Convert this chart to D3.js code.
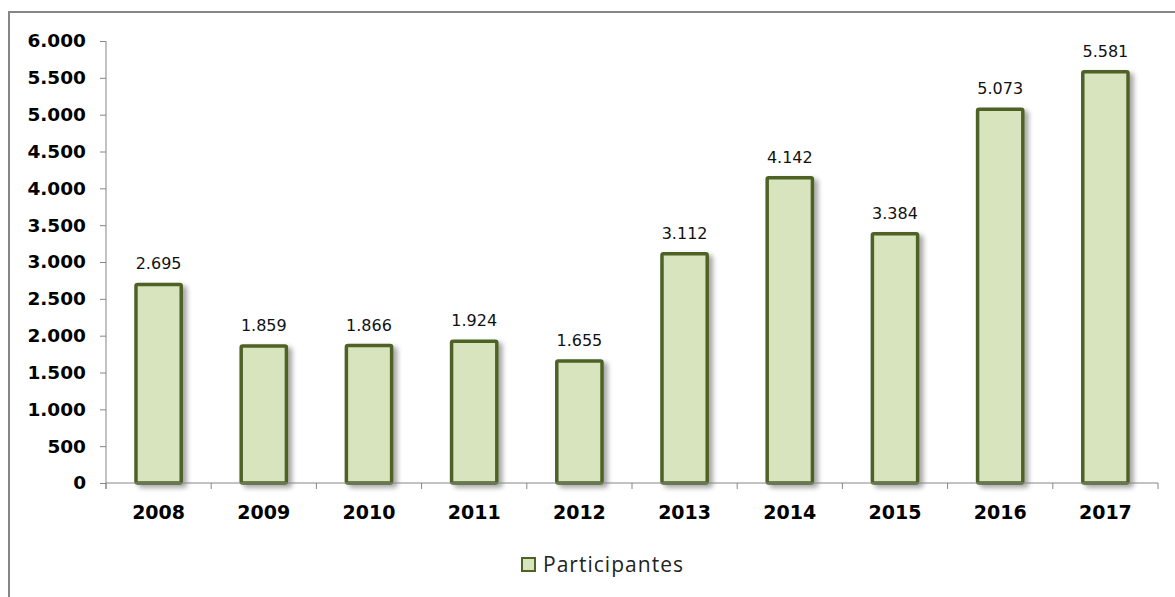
<!DOCTYPE html>
<html><head><meta charset="utf-8">
<script src="https://cdn.jsdelivr.net/npm/d3@7"></script>
<style>body{margin:0;background:#fff}svg{display:block}</style>
</head><body>
<script>
const years = ["2008","2009","2010","2011","2012","2013","2014","2015","2016","2017"];
const participantes = [2695,1859,1866,1924,1655,3112,4142,3384,5073,5581];
const yTicks = [0,500,1000,1500,2000,2500,3000,3500,4000,4500,5000,5500,6000];
const seriesName = "Participantes";

const W = 1175, H = 597;
const svg = d3.select("body").append("svg").attr("width", W).attr("height", H);
const defs = svg.append("defs");
const f = defs.append("filter").attr("id","sh").attr("x","-20%").attr("y","-10%").attr("width","150%").attr("height","130%");
f.append("feDropShadow").attr("dx",4).attr("dy",3).attr("stdDeviation",2.5).attr("flood-color","#000").attr("flood-opacity",0.35);

// frame
svg.append("path").attr("d","M9,600 V12 H1180").attr("fill","none").attr("stroke","#868686").attr("stroke-width",2);

const x = d3.scaleBand().domain(years).range([106,1158]).paddingInner(0.57).paddingOuter(0.285);
const y = d3.scaleLinear().domain([0,6000]).range([483,41]);
const fmt = v => d3.format(",")(v).replace(/,/g,".");

// bars
svg.append("g").selectAll("rect").data(participantes).join("rect")
  .attr("x",(d,i)=>x(years[i]))
  .attr("y",d=>y(d))
  .attr("width",x.bandwidth())
  .attr("height",d=>y(0)-y(d))
  .attr("fill","#d7e4bd").attr("stroke","#4f6228").attr("stroke-width",3.5)
  .attr("rx",1.5).attr("filter","url(#sh)");

// y axis
const ya = svg.append("g").attr("transform","translate(106,0)")
  .call(d3.axisLeft(y).tickValues(yTicks).tickSize(6).tickPadding(14).tickFormat(fmt));
ya.select(".domain").attr("stroke","#868686").attr("d","M0,41V489");
ya.selectAll(".tick line").attr("stroke","#868686");
ya.selectAll("text").attr("font-family","DejaVu Sans, Verdana").attr("font-weight","bold").attr("font-size",18.5).attr("fill","#000");

// x axis
const xa = svg.append("g").attr("transform","translate(0,483)");
xa.append("line").attr("x1",106).attr("x2",1158).attr("stroke","#868686");
xa.selectAll("line.t").data(d3.range(years.length+1)).join("line").attr("class","t")
  .attr("x1",i=>106+i*x.step()).attr("x2",i=>106+i*x.step()).attr("y1",0).attr("y2",6).attr("stroke","#868686");
xa.selectAll("text").data(years).join("text")
  .attr("x",d=>x(d)+x.bandwidth()/2).attr("y",36).attr("text-anchor","middle")
  .attr("font-family","DejaVu Sans, Verdana").attr("font-weight","bold").attr("font-size",19).attr("fill","#000")
  .text(d=>d);

// data labels
svg.append("g").selectAll("text").data(participantes).join("text")
  .attr("x",(d,i)=>x(years[i])+x.bandwidth()/2).attr("y",d=>y(d)-15)
  .attr("text-anchor","middle").attr("font-family","DejaVu Sans, Verdana").attr("font-size",16).attr("fill","#111")
  .text(d=>fmt(d));

// legend
const lg = svg.append("g");
lg.append("rect").attr("x",522).attr("y",558).attr("width",13).attr("height",13).attr("fill","#d7e4bd").attr("stroke","#4f6228").attr("stroke-width",2);
lg.append("text").attr("x",543).attr("y",572).attr("font-family","Open Sans, Carlito, sans-serif").attr("font-size",21)
  .attr("textLength",140).attr("lengthAdjust","spacing").attr("fill","#222").text(seriesName);
</script>
</body></html>
